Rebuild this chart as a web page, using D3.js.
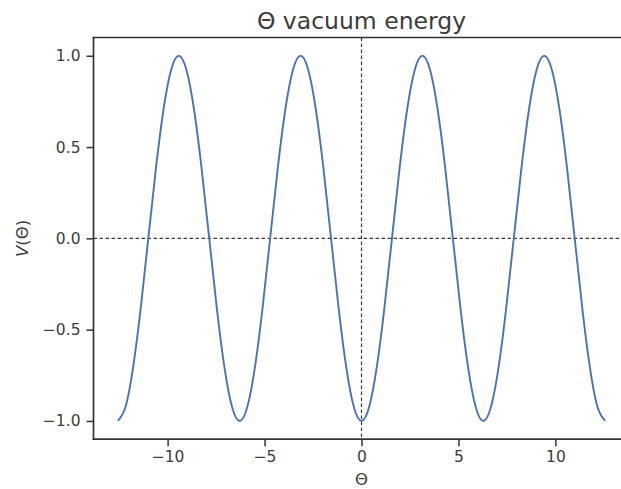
<!DOCTYPE html>
<html>
<head>
<meta charset="utf-8">
<script src="https://cdn.jsdelivr.net/npm/d3@7/dist/d3.min.js"></script>
<style>
  html, body { margin: 0; padding: 0; background: #fff; }
  svg { display: block; font-family: "DejaVu Sans", sans-serif; }
</style>
</head>
<body>
<svg id="chart" width="621" height="489"></svg>
<script>
// Θ values (multiples of π/8 from -4π to 4π) and V(Θ)
const theta = [
  -12.566, -12.174, -11.781, -11.388, -10.996, -10.603, -10.210, -9.817,
  -9.425, -9.032, -8.639, -8.247, -7.854, -7.461, -7.069, -6.676,
  -6.283, -5.890, -5.498, -5.105, -4.712, -4.320, -3.927, -3.534,
  -3.142, -2.749, -2.356, -1.963, -1.571, -1.178, -0.785, -0.393,
  0.000,
  0.393, 0.785, 1.178, 1.571, 1.963, 2.356, 2.749, 3.142,
  3.534, 3.927, 4.320, 4.712, 5.105, 5.498, 5.890, 6.283,
  6.676, 7.069, 7.461, 7.854, 8.247, 8.639, 9.032, 9.425,
  9.817, 10.210, 10.603, 10.996, 11.388, 11.781, 12.174, 12.566
];
const energy = [
  -1.000, -0.924, -0.707, -0.383, 0.000, 0.383, 0.707, 0.924,
  1.000, 0.924, 0.707, 0.383, 0.000, -0.383, -0.707, -0.924,
  -1.000, -0.924, -0.707, -0.383, 0.000, 0.383, 0.707, 0.924,
  1.000, 0.924, 0.707, 0.383, 0.000, -0.383, -0.707, -0.924,
  -1.000,
  -0.924, -0.707, -0.383, 0.000, 0.383, 0.707, 0.924, 1.000,
  0.924, 0.707, 0.383, 0.000, -0.383, -0.707, -0.924, -1.000,
  -0.924, -0.707, -0.383, 0.000, 0.383, 0.707, 0.924, 1.000,
  0.924, 0.707, 0.383, 0.000, -0.383, -0.707, -0.924, -1.000
];
const xTicks = [-10, -5, 0, 5, 10];
const yTicks = [-1.0, -0.5, 0.0, 0.5, 1.0];
const titleText = "Θ vacuum energy";
const xLabel = "Θ";

const svg = d3.select("#chart");
const L = 93.5, R = 629.5, T = 37.5, B = 439.2;

const xExt = d3.extent(theta);
const xPad = (xExt[1] - xExt[0]) * 0.05;
const yExt = d3.extent(energy);
const yPad = (yExt[1] - yExt[0]) * 0.05;

const x = d3.scaleLinear().domain([xExt[0] - xPad, xExt[1] + xPad]).range([L, R]);
const y = d3.scaleLinear().domain([yExt[0] - yPad, yExt[1] + yPad]).range([B, T]);

const ink = "#333333";
const textCol = "#3c3c3c";

// reference lines
svg.append("line")
  .attr("x1", L).attr("x2", R).attr("y1", y(0)).attr("y2", y(0))
  .attr("stroke", "#3a3a3a").attr("stroke-width", 1.2).attr("stroke-dasharray", "3.5,2.5");
svg.append("line")
  .attr("x1", x(0)).attr("x2", x(0)).attr("y1", T).attr("y2", B)
  .attr("stroke", "#3a3a3a").attr("stroke-width", 1.2).attr("stroke-dasharray", "3.5,2.5");

// curve
const pts = theta.map((t, i) => [t, energy[i]]);
svg.append("path")
  .datum(pts)
  .attr("fill", "none")
  .attr("stroke", "#4c72b0")
  .attr("stroke-width", 1.9)
  .attr("d", d3.line().x(d => x(d[0])).y(d => y(d[1])).curve(d3.curveNatural));

// axes
const fmtY = d => d3.format(".1f")(d).replace("-", "\u2212");
const fmtX = d => d3.format("d")(d).replace("-", "\u2212");

const gx = svg.append("g").attr("transform", `translate(0,${B})`)
  .call(d3.axisBottom(x).tickValues(xTicks).tickFormat(fmtX).tickSize(7).tickPadding(5));
const gy = svg.append("g").attr("transform", `translate(${L},0)`)
  .call(d3.axisLeft(y).tickValues(yTicks).tickFormat(fmtY).tickSize(7).tickPadding(6));

[gx, gy].forEach(g => {
  g.select(".domain").remove();
  g.selectAll(".tick line").attr("stroke", ink).attr("stroke-width", 1.5);
  g.selectAll(".tick text").attr("fill", textCol)
    .style("font-family", "DejaVu Sans").style("font-size", "15.5px");
});

// spines (left, top, bottom; right falls outside the picture)
svg.append("line").attr("x1", L).attr("x2", L).attr("y1", T).attr("y2", B)
  .attr("stroke", ink).attr("stroke-width", 1.7).attr("stroke-linecap", "square");
svg.append("line").attr("x1", L).attr("x2", R).attr("y1", B).attr("y2", B)
  .attr("stroke", ink).attr("stroke-width", 1.7).attr("stroke-linecap", "square");
svg.append("line").attr("x1", L).attr("x2", R).attr("y1", T).attr("y2", T)
  .attr("stroke", ink).attr("stroke-width", 1.7).attr("stroke-linecap", "square");

// title
svg.append("text")
  .attr("x", (L + R) / 2).attr("y", 29)
  .attr("text-anchor", "middle")
  .attr("fill", textCol)
  .style("font-size", "23.5px")
  .text(titleText);

// x label
svg.append("text")
  .attr("x", (L + R) / 2).attr("y", 485)
  .attr("text-anchor", "middle")
  .attr("fill", textCol)
  .style("font-size", "16.5px")
  .text(xLabel);

// y label
const yl = svg.append("text")
  .attr("transform", `translate(28,${(T + B) / 2}) rotate(-90)`)
  .attr("text-anchor", "middle")
  .attr("fill", textCol)
  .style("font-size", "16.5px");
yl.append("tspan").style("font-style", "italic").text("V");
yl.append("tspan").text("(Θ)");
</script>
</body>
</html>
